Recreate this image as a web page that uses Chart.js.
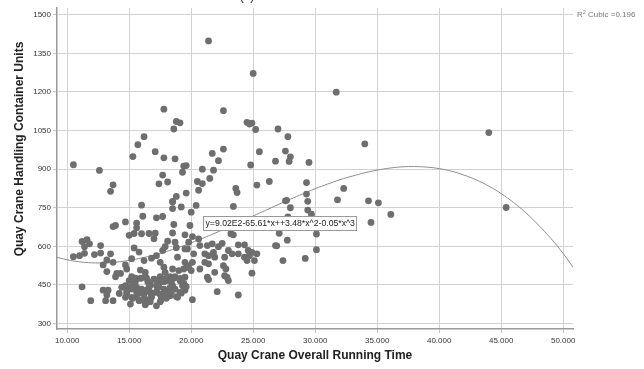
<!DOCTYPE html>
<html><head><meta charset="utf-8">
<script src="https://cdn.jsdelivr.net/npm/chart.js@4/dist/chart.umd.min.js"></script>
<style>html,body{margin:0;padding:0;background:#fff;}#wrap{width:644px;height:369px;}</style>
</head><body><div id="wrap"><canvas id="c" width="644" height="369"></canvas></div>
<script>
const xTicks = [10, 15, 20, 25, 30, 35, 40, 45, 50];
const xTickLabels = ['10.000','15.000','20.000','25.000','30.000','35.000','40.000','45.000','50.000'];
const yTicks = [300, 450, 600, 750, 900, 1050, 1200, 1350, 1500];
const xTitle = 'Quay Crane Overall Running Time';
const yTitle = 'Quay Crane Handling Container Units';
const eqText = 'y=9.02E2-65.61*x++3.48*x^2-0.05*x^3';
const r2Value = '0.196';

// fitted cubic curve
const fitX = [9,10,11,12,13,14,15,16,17,18,19,20,21,22,23,24,25,26,27,28,29,30,31,32,33,34,35,36,37,38,39,40,41,42,43,44,45,46,47,48,49,50,51];
const fitY = [560,548,540,536,536,539,546,555,566,580,596,614,633,653,674,696,718,740,762,783,804,824,842,859,873,886,896,904,909,910,908,902,892,877,858,834,805,770,730,683,631,572,505];

// observed points
const pointsX = [
10.5,12.6,13.7,13.5,17.8,18.8,19.1,18.6,16.2,15.7,17.1,15.3,17.8,18.7,19.4,19.6,19.3,17.7,18.1,17.4,18.8,18.5,19.6,
21.4,25.0,22.6,24.5,24.7,24.9,25.2,27.0,27.8,21.7,22.6,22.2,25.5,27.6,28.0,27.9,26.8,29.5,24.8,20.9,21.8,20.5,20.9,21.5,20.6,23.6,23.7,25.3,26.3,29.3,29.3,27.6,
31.7,34.0,44.0,45.4,29.4,29.4,29.7,30.1,30.1,29.2,32.3,31.8,34.3,35.1,36.1,34.5,
20.4,20.0,19.9,23.4,27.7,28.0,20.1,20.6,19.8,19.7,20.7,21.3,21.7,22.2,22.5,23.2,23.4,23.8,24.3,24.6,24.9,25.3,24.7,25.1,24.3,24.5,23.8,23.3,23.0,22.7,22.6,22.8,22.7,21.9,21.8,21.4,21.1,21.1,21.4,20.7,20.1,20.2,19.7,20.0,21.3,21.4,21.9,23.0,24.9,19.5,22.1,23.8,20.1,26.8,27.4,27.1,27.8,27.75,26.9,22.9,19.8,
16.0,18.5,18.5,19.2,16.1,17.2,17.7,13.9,13.7,14.7,15.6,15.6,18.6,15.0,15.4,16.0,16.6,17.1,17.0,18.5,19.5,11.2,11.6,11.8,11.4,12.7,10.5,11.0,11.4,12.2,12.7,13.5,15.4,15.8,15.2,13.2,13.7,12.9,13.2,14.0,13.9,14.3,14.8,14.7,16.2,16.8,17.2,17.7,17.9,18.1,18.7,18.8,19.5,18.9,19.5,17.5,15.9,16.3,16.0,16.4,15.5,15.0,17.0,17.3,17.7,18.1,18.3,18.6,17.8,17.9,18.5,19.0,19.4,19.5,
11.2,12.9,13.3,13.2,11.9,13.1,13.7,14.2,14.7,14.8,14.7,15.2,15.6,15.2,15.1,15.6,16.0,16.2,16.3,16.6,16.7,15.8,16.3,16.8,17.2,17.2,17.6,17.8,18.2,18.5,18.7,18.9,18.3,19.3,19.1,19.5,17.2,17.4,15.4,14.4,16.3,18.7,19.1,19.4,17.5,18.3,17.9,
15.2,15.5,15.9,16.3,16.5,16.7,17.0,17.4,17.5,17.8,18.0,18.4,18.7,19.1,19.4,19.6,15.6,16.0,16.4,16.8,17.2,17.6,18.0,18.4,18.8,19.2,16.1,16.7,17.5,18.0,15.1,14.8,15.3
];
const pointsY = [
917,895,839,814,1133,1085,1080,1056,1026,995,968,949,944,940,912,914,888,877,850,843,794,775,807,
1398,1272,1127,1082,1075,1079,1054,1056,1026,961,978,933,968,970,948,930,931,926,916,900,896,852,844,864,818,825,809,838,852,848,803,777,
1199,998,1042,751,775,741,725,648,587,553,825,781,777,769,724,693,
759,733,681,755,779,750,638,629,616,590,603,603,610,599,612,649,645,606,606,584,577,571,564,545,558,545,571,571,584,558,525,512,486,558,577,564,571,538,532,512,538,571,525,506,480,471,499,467,496,447,424,411,393,603,545,651,714,624,602,479,518,
760,772,747,753,717,711,716,681,677,695,690,672,685,643,650,649,650,651,630,652,645,619,626,610,599,603,560,564,573,568,574,571,594,578,552,547,538,528,502,495,482,495,512,528,545,554,564,584,599,620,616,595,590,558,538,538,508,499,477,477,477,467,473,467,473,467,482,477,519,499,512,506,512,480,
443,430,430,411,389,389,389,417,447,428,402,434,441,402,376,408,434,415,395,441,421,389,376,402,421,369,395,434,428,447,434,402,408,447,421,430,447,443,454,441,373,479,466,453,414,440,401,
482,463,476,482,463,450,472,456,482,463,476,463,482,476,456,443,424,418,430,411,424,405,418,424,405,418,392,385,385,398,443,418,398
];

const eqAnchor = [20.95, 689];
const FONT = '"Liberation Sans", Arial, sans-serif';

const pts = pointsX.map((v, i) => ({x: v, y: pointsY[i]}));
const fit = fitX.map((v, i) => ({x: v, y: fitY[i]}));

const annot = {
  id: 'annot',
  afterDatasetsDraw(chart) {
    const {ctx, scales: {x, y}} = chart;
    const bx = x.getPixelForValue(eqAnchor[0]);
    const by = y.getPixelForValue(eqAnchor[1]);
    ctx.save();
    ctx.font = '8.7px ' + FONT;
    const w = ctx.measureText(eqText).width;
    const L = Math.round(bx) + 0.5, T = Math.round(by - 7) + 0.5, W = Math.round(w + 4);
    ctx.fillStyle = '#fff';
    ctx.fillRect(L, T, W, 14);
    ctx.strokeStyle = '#9a9a9a';
    ctx.lineWidth = 1;
    ctx.strokeRect(L, T, W, 14);
    ctx.fillStyle = '#222';
    ctx.textBaseline = 'middle';
    ctx.textAlign = 'left';
    ctx.fillText(eqText, L + 2, by + 0.5);
    ctx.restore();
  },
  afterDraw(chart) {
    const {ctx, chartArea} = chart;
    ctx.save();
    ctx.fillStyle = '#7a7a7a';
    ctx.textBaseline = 'alphabetic';
    ctx.textAlign = 'left';
    let px = chartArea.right + 4;
    const base = 17;
    ctx.font = '8px ' + FONT;
    ctx.fillText('R', px, base);
    px += ctx.measureText('R').width;
    ctx.font = '5.5px ' + FONT;
    ctx.fillText('2', px, base - 3.5);
    px += ctx.measureText('2').width;
    ctx.font = '8px ' + FONT;
    ctx.fillText(' Cubic =' + r2Value, px, base);
    ctx.fillStyle = '#222';
    ctx.textAlign = 'center';
    ctx.font = '12px ' + FONT;
    ctx.fillText('(a)', 247, 0);
    ctx.font = 'bold 12px ' + FONT;
    ctx.textBaseline = 'middle';
    ctx.fillText(xTitle, (chartArea.left + chartArea.right) / 2, 356);
    ctx.translate(20, 149);
    ctx.rotate(-Math.PI / 2);
    ctx.fillText(yTitle, 0, 0);
    ctx.restore();
  }
};

new Chart(document.getElementById('c'), {
  type: 'scatter',
  data: {
    datasets: [
      {type: 'scatter', data: pts, pointRadius: 3.4, pointHoverRadius: 3.4, pointBackgroundColor: '#6e6e6e', pointBorderWidth: 0, order: 1},
      {type: 'line', data: fit, borderColor: '#8c8c8c', borderWidth: 1, pointRadius: 0, tension: 0.4, fill: false, order: 2}
    ]
  },
  options: {
    responsive: false,
    animation: false,
    devicePixelRatio: 1,
    layout: {padding: {top: 8, right: 71, left: 0, bottom: 0}},
    plugins: {legend: {display: false}, tooltip: {enabled: false}},
    scales: {
      x: {
        type: 'linear', min: 9.18, max: 50.79,
        afterBuildTicks: s => { s.ticks = xTicks.map(v => ({value: v})); },
        afterFit: s => { s.height = 40; },
        grid: {color: '#d2d2d2', lineWidth: 1, tickLength: 4, tickColor: '#c4c4c4'},
        border: {color: '#9a9a9a', width: 1.5},
        ticks: {font: {size: 8, family: FONT}, color: '#333', padding: 3, maxRotation: 0, autoSkip: false,
          callback: (v, i) => xTickLabels[xTicks.indexOf(v)]}
      },
      y: {
        type: 'linear', min: 279, max: 1526,
        afterBuildTicks: s => { s.ticks = yTicks.map(v => ({value: v})); },
        afterFit: s => { s.width = 57; },
        grid: {color: '#d2d2d2', lineWidth: 1, tickLength: 4, tickColor: '#c4c4c4'},
        border: {color: '#9a9a9a', width: 1.5},
        ticks: {font: {size: 8, family: FONT}, color: '#333', padding: 2, autoSkip: false,
          callback: v => String(v)}
      }
    }
  },
  plugins: [annot]
});
</script></body></html>
